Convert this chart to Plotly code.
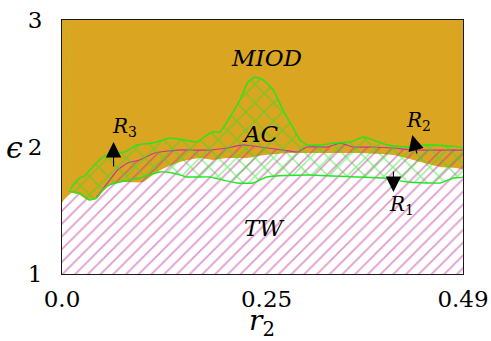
import plotly.graph_objects as go

# Upper edge of the unshaded (white) part of the TW region
r2_white = [0.0, 0.0116, 0.0214, 0.0312, 0.0423, 0.0582, 0.0741, 0.0986, 0.1158, 0.1256,
            0.1440, 0.1684, 0.1844, 0.2015, 0.2260, 0.2481, 0.2787, 0.3154, 0.3644, 0.4048,
            0.4293, 0.4624, 0.49]
eps_white = [1.559, 1.638, 1.622, 1.583, 1.598, 1.701, 1.724, 1.724, 1.803, 1.835,
             1.882, 1.913, 1.898, 1.913, 1.913, 1.937, 1.953, 1.953, 1.953, 1.937,
             1.898, 1.843, 1.819]

# Upper boundary of the hatched TW region
r2_tw = [0.0, 0.0116, 0.0214, 0.0312, 0.0423, 0.0508, 0.0557, 0.0680, 0.0802, 0.0949,
         0.1133, 0.1403, 0.1623, 0.1807, 0.2015, 0.2211, 0.2419, 0.2701, 0.2873, 0.2995,
         0.3240, 0.3400, 0.3559, 0.3804, 0.4048, 0.4293, 0.4624, 0.49]
eps_tw = [1.559, 1.638, 1.622, 1.583, 1.606, 1.677, 1.717, 1.819, 1.874, 1.898,
          1.953, 1.976, 1.976, 1.976, 1.992, 2.016, 2.000, 1.976, 1.961, 2.000,
          2.000, 2.031, 2.000, 2.000, 1.992, 1.976, 1.976, 1.976]

# AC band: upper and lower boundaries
r2_ac_upper = [0.0092, 0.0214, 0.0276, 0.0374, 0.0496, 0.0619, 0.0766, 0.0913, 0.1109, 0.1231,
               0.1317, 0.1501, 0.1648, 0.1770, 0.1844, 0.1929, 0.2052, 0.2174, 0.2272, 0.2358,
               0.2456, 0.2579, 0.2701, 0.2823, 0.2909, 0.2995, 0.3154, 0.3338, 0.3522, 0.3681,
               0.3804, 0.3975, 0.4220, 0.4465, 0.4710, 0.49]
eps_ac_upper = [1.654, 1.756, 1.772, 1.843, 1.921, 1.953, 1.961, 2.016, 2.031, 2.055,
                2.071, 2.055, 2.039, 2.094, 2.118, 2.118, 2.236, 2.370, 2.512, 2.551,
                2.528, 2.449, 2.291, 2.150, 2.055, 2.016, 2.016, 2.031, 2.039, 2.079,
                2.055, 2.016, 2.000, 2.016, 2.008, 1.992]
r2_ac_lower = [0.0092, 0.0214, 0.0337, 0.0423, 0.0496, 0.0582, 0.0704, 0.0827, 0.0949, 0.1072,
               0.1194, 0.1354, 0.1525, 0.1648, 0.1807, 0.1966, 0.2138, 0.2334, 0.2505, 0.2995,
               0.3608, 0.3926, 0.4220, 0.4465, 0.4624, 0.4784, 0.49]
eps_ac_lower = [1.654, 1.638, 1.583, 1.598, 1.661, 1.701, 1.724, 1.740, 1.756, 1.780,
                1.803, 1.795, 1.764, 1.764, 1.764, 1.740, 1.717, 1.717, 1.764, 1.780,
                1.764, 1.756, 1.724, 1.717, 1.717, 1.756, 1.764]

x_tickvals = [0.0, 0.25, 0.49]
x_ticktext = ["0.0", "0.25", "0.49"]
y_tickvals = [1, 2, 3]

# Region labels: (text, r2, eps)
region_labels = [("MIOD", 0.2493, 2.697), ("AC", 0.242, 2.102), ("TW", 0.248, 1.362)]
# Arrow annotations: (label, text r2, text eps, tail r2, tail eps, head r2, head eps)
route_arrows = [
    ("3", 0.0766, 2.157, 0.063, 1.835, 0.063, 2.039),
    ("2", 0.4355, 2.205, 0.4342, 1.937, 0.428, 2.094),
    ("1", 0.4147, 1.543, 0.405, 1.819, 0.405, 1.646),
]

GOLD = "#DAA520"
MAGENTA = "#C4359C"
GREEN = "#22E622"
SERIF = "DejaVu Serif"

fig = go.Figure()

# white part of TW
fig.add_trace(go.Scatter(
    x=[0.0] + r2_white + [0.49, 0.0], y=[1.0] + eps_white + [1.0, 1.0],
    mode="lines", fill="toself", fillcolor="white",
    line=dict(width=0, shape="spline", smoothing=0.5), hoverinfo="skip", showlegend=False))

# hatched TW region
fig.add_trace(go.Scatter(
    x=[0.0] + r2_tw + [0.49, 0.0], y=[1.0] + eps_tw + [1.0, 1.0],
    mode="lines", fill="toself", fillcolor="rgba(0,0,0,0)",
    fillpattern=dict(shape="/", fgcolor=MAGENTA, bgcolor="rgba(0,0,0,0)", size=9, solidity=0.2),
    line=dict(width=0, shape="spline", smoothing=0.5), hoverinfo="skip", showlegend=False))

# TW boundary line
start = 4
fig.add_trace(go.Scatter(
    x=r2_tw[start:], y=eps_tw[start:], mode="lines",
    line=dict(color=MAGENTA, width=1.2, shape="spline", smoothing=0.5),
    hoverinfo="skip", showlegend=False))

# AC band (cross-hatched)
fig.add_trace(go.Scatter(
    x=r2_ac_upper + r2_ac_lower[::-1], y=eps_ac_upper + eps_ac_lower[::-1],
    mode="lines", fill="toself", fillcolor="rgba(0,0,0,0)",
    fillpattern=dict(shape="x", fgcolor=GREEN, bgcolor="rgba(0,0,0,0)", size=13, solidity=0.22),
    line=dict(color=GREEN, width=1.4, shape="spline", smoothing=0.5),
    hoverinfo="skip", showlegend=False))

# faint dotted edge of the AC band
fig.add_trace(go.Scatter(
    x=[r2_ac_upper[0], r2_ac_upper[0]], y=[eps_ac_upper[0], 3.0], mode="lines",
    line=dict(color="rgba(150,210,60,0.6)", width=1, dash="dot"),
    hoverinfo="skip", showlegend=False))

annotations = []
for text, x, y in region_labels:
    annotations.append(dict(x=x, y=y, xref="x", yref="y", text=f"<i>{text}</i>",
                            showarrow=False, font=dict(family=SERIF, size=23, color="black")))
for sub, tx, ty, ax, ay, hx, hy in route_arrows:
    annotations.append(dict(x=tx, y=ty, xref="x", yref="y", text=f"<i>R</i><sub>{sub}</sub>",
                            showarrow=False, font=dict(family=SERIF, size=20, color="black")))
    annotations.append(dict(x=hx, y=hy, xref="x", yref="y", ax=ax, ay=ay, axref="x", ayref="y",
                            text="", showarrow=True, arrowhead=2, arrowsize=2.8, arrowwidth=1.1,
                            arrowcolor="black"))

annotations.append(dict(x=-0.145, y=2.0, xref="paper", yref="y", text="<i>ϵ</i>",
                        showarrow=False, font=dict(family=SERIF, size=30, color="black")))
annotations.append(dict(x=0.2446, y=-0.19, xref="x", yref="paper", text="<i>r</i><sub>2</sub>",
                        showarrow=False, yanchor="middle",
                        font=dict(family=SERIF, size=28, color="black")))

fig.update_layout(
    width=491, height=341,
    margin=dict(l=62, r=28, t=20, b=67, autoexpand=False),
    paper_bgcolor="white", plot_bgcolor=GOLD,
    annotations=annotations,
    xaxis=dict(range=[0, 0.49], tickvals=x_tickvals, ticktext=x_ticktext, automargin=False,
               showgrid=False, zeroline=False, showline=True, mirror=True,
               linecolor="#1a1a1a", linewidth=1.2, ticks="", ticklabelstandoff=4,
               tickfont=dict(family=SERIF, size=23, color="black")),
    yaxis=dict(range=[1, 3], tickvals=y_tickvals, automargin=False,
               showgrid=False, zeroline=False, showline=True, mirror=True,
               linecolor="#1a1a1a", linewidth=1.2, ticks="", ticklabelstandoff=14,
               tickfont=dict(family=SERIF, size=23, color="black")),
)

fig.write_html("out.html")
